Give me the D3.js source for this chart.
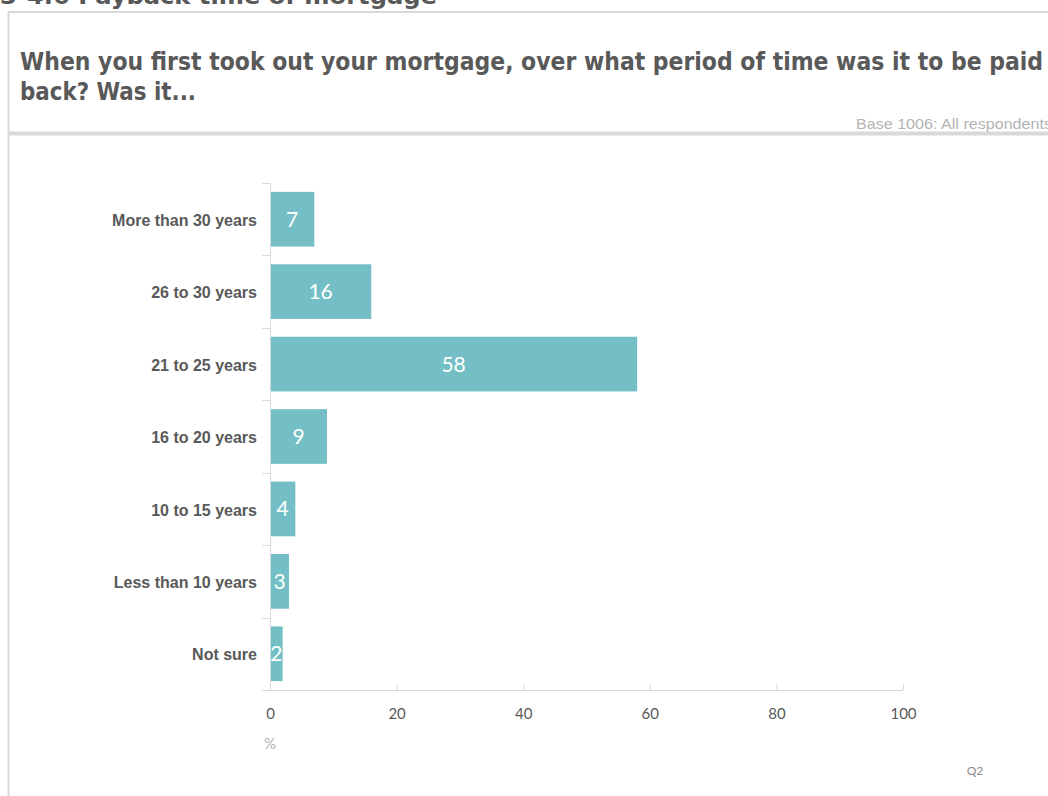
<!DOCTYPE html>
<html>
<head>
<meta charset="utf-8">
<script src="https://cdn.jsdelivr.net/npm/d3@7"></script>
<style>
  html, body { margin: 0; padding: 0; background: #fff; }
  svg { display: block; }
</style>
</head>
<body>
<svg id="chart" width="1048" height="796"></svg>
<script>
// Survey answers: payback period of the mortgage when first taken out (%)
const categories = [
  "More than 30 years",
  "26 to 30 years",
  "21 to 25 years",
  "16 to 20 years",
  "10 to 15 years",
  "Less than 10 years",
  "Not sure"
];
const values = [7, 16, 58, 9, 4, 3, 2];
const xTicks = [0, 20, 40, 60, 80, 100];

const sectionTitle = "3-4.6 Payback time of mortgage";
const questionLines = [
  "When you first took out your mortgage, over what period of time was it to be paid",
  "back? Was it..."
];
const baseNote = "Base 1006: All respondents";
const unitLabel = "%";
const sourceLabel = "Q2";

const data = categories.map((c, i) => ({ category: c, value: values[i] }));

const svg = d3.select("#chart");
const grey = "#595959";
const frameGrey = "#d9d9d9";
const barColor = "#73bfc5";

// Section heading, running off the top edge of the page
svg.append("text")
  .attr("x", 0).attr("y", 4)
  .attr("font-family", "'DejaVu Sans Condensed', 'DejaVu Sans', sans-serif")
  .attr("font-weight", "bold")
  .attr("font-size", 23)
  .attr("fill", grey)
  .attr("textLength", 437)
  .attr("lengthAdjust", "spacingAndGlyphs")
  .text(sectionTitle);

// Panel frame: left and top border plus separator under the question
svg.append("line")
  .attr("x1", 8.5).attr("x2", 8.5).attr("y1", 11).attr("y2", 796)
  .attr("stroke", frameGrey).attr("stroke-width", 2);
svg.append("line")
  .attr("x1", 8).attr("x2", 1048).attr("y1", 12).attr("y2", 12)
  .attr("stroke", frameGrey).attr("stroke-width", 2);
svg.append("line")
  .attr("x1", 8).attr("x2", 1048).attr("y1", 133.5).attr("y2", 133.5)
  .attr("stroke", frameGrey).attr("stroke-width", 4);

// Question text
const qWidths = [1023, 176];
questionLines.forEach((line, i) => {
  svg.append("text")
    .attr("x", 20).attr("y", 70 + i * 30)
    .attr("font-family", "'DejaVu Sans Condensed', 'DejaVu Sans', sans-serif")
    .attr("font-weight", "bold")
    .attr("font-size", 24)
    .attr("fill", grey)
    .attr("textLength", qWidths[i])
    .attr("lengthAdjust", "spacingAndGlyphs")
    .text(line);
});

svg.append("text")
  .attr("x", 856).attr("y", 129)
  .attr("font-family", "'Liberation Sans', Arial, sans-serif")
  .attr("font-size", 15)
  .attr("fill", "#b3b3b3")
  .attr("textLength", 196)
  .attr("lengthAdjust", "spacingAndGlyphs")
  .text(baseNote);

// Chart area
const plotLeft = 270, plotRight = 903, plotTop = 183, plotBottom = 690;

const x = d3.scaleLinear().domain([0, 100]).range([plotLeft, plotRight]);
const y = d3.scaleBand().domain(categories).range([plotTop, plotBottom])
  .paddingInner(0.245).paddingOuter(0.1225);

// Bars
svg.append("g").selectAll("rect")
  .data(data)
  .join("rect")
  .attr("x", x(0))
  .attr("y", d => y(d.category))
  .attr("width", d => x(d.value) - x(0))
  .attr("height", y.bandwidth())
  .attr("fill", barColor);

// Value labels inside the bars
svg.append("g").selectAll("text")
  .data(data)
  .join("text")
  .attr("x", d => (x(0) + x(d.value)) / 2)
  .attr("y", d => y(d.category) + y.bandwidth() / 2)
  .attr("dy", "0.36em")
  .attr("text-anchor", "middle")
  .attr("font-family", "Lato, 'Open Sans', sans-serif")
  .attr("font-size", 21)
  .attr("fill", "#ffffff")
  .text(d => d.value);

// Y axis: vertical line with ticks between the categories
const step = y.step();
const yAxisG = svg.append("g");
yAxisG.append("line")
  .attr("x1", plotLeft + 0.5).attr("x2", plotLeft + 0.5)
  .attr("y1", plotTop).attr("y2", plotBottom)
  .attr("stroke", frameGrey).attr("stroke-width", 1);
const boundaries = d3.range(categories.length + 1)
  .map(i => y(categories[0]) - y.paddingOuter() * step + i * step);
yAxisG.selectAll("line.sep")
  .data(boundaries)
  .join("line")
  .attr("class", "sep")
  .attr("x1", plotLeft - 8).attr("x2", plotLeft)
  .attr("y1", d => Math.round(d) + 0.5).attr("y2", d => Math.round(d) + 0.5)
  .attr("stroke", frameGrey);

// Category labels
svg.append("g").selectAll("text")
  .data(categories)
  .join("text")
  .attr("x", 257)
  .attr("y", d => y(d) + y.bandwidth() / 2 + 1)
  .attr("dy", "0.35em")
  .attr("text-anchor", "end")
  .attr("font-family", "'Liberation Sans', Arial, sans-serif")
  .attr("font-weight", "bold")
  .attr("font-size", 16)
  .attr("fill", grey)
  .text(d => d);

// X axis
const xAxis = d3.axisBottom(x).tickValues(xTicks).tickSize(-6).tickPadding(18).tickSizeOuter(0);
const xAxisG = svg.append("g")
  .attr("transform", `translate(0,${plotBottom})`)
  .call(xAxis);
xAxisG.select(".domain").remove();
xAxisG.insert("line", ":first-child")
  .attr("x1", plotLeft - 8).attr("x2", plotRight)
  .attr("y1", 0.5).attr("y2", 0.5)
  .attr("stroke", frameGrey);
xAxisG.selectAll(".tick line").attr("stroke", frameGrey);
xAxisG.selectAll(".tick text")
  .attr("font-family", "Lato, 'Open Sans', sans-serif")
  .attr("font-size", 15)
  .attr("fill", grey);

svg.append("text")
  .attr("x", plotLeft).attr("y", 749)
  .attr("text-anchor", "middle")
  .attr("font-family", "Lato, 'Open Sans', sans-serif")
  .attr("font-size", 15)
  .attr("fill", "#b3b3b3")
  .text(unitLabel);

svg.append("text")
  .attr("x", 975).attr("y", 775)
  .attr("text-anchor", "middle")
  .attr("font-family", "Lato, 'Open Sans', sans-serif")
  .attr("font-size", 12)
  .attr("fill", "#8c8c8c")
  .text(sourceLabel);
</script>
</body>
</html>
